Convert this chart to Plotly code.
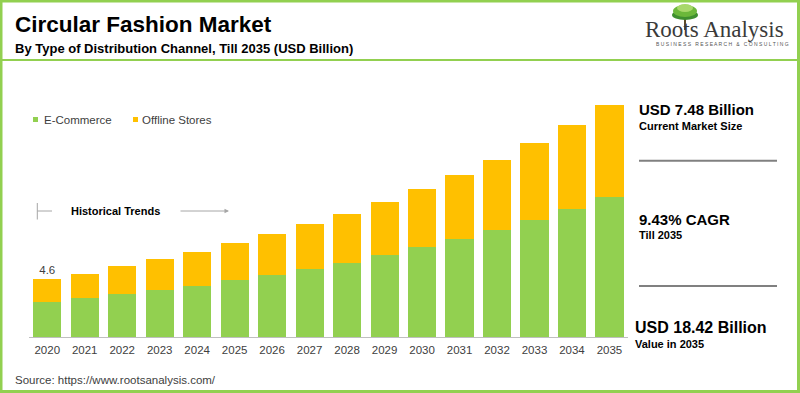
import plotly.graph_objects as go

years = [str(y) for y in range(2020, 2036)]
ecommerce = [2.82, 3.09, 3.43, 3.77, 4.10, 4.55, 4.94, 5.39, 5.92, 6.50, 7.14, 7.80, 8.49, 9.29, 10.18, 11.11]
offline = [1.78, 1.93, 2.20, 2.42, 2.69, 2.93, 3.26, 3.60, 3.87, 4.26, 4.63, 5.06, 5.56, 6.13, 6.67, 7.31]
series_names = ["E-Commerce", "Offline Stores"]
top_labels = ["4.6"] + [""] * 15

W, H = 800, 393
GREEN = "#92D050"
ORANGE = "#FFC000"
FONT = "Liberation Sans, Arial, sans-serif"


def px(x):
    return x / W


def py(y):
    return 1 - y / H


fig = go.Figure()
fig.add_trace(go.Bar(x=years, y=ecommerce, name=series_names[0], marker=dict(color=GREEN, line=dict(width=0)),
                     showlegend=False, hoverinfo="skip"))
fig.add_trace(go.Bar(x=years, y=offline, name=series_names[1], marker=dict(color=ORANGE, line=dict(width=0)),
                     showlegend=False, hoverinfo="skip", text=top_labels, textposition="outside",
                     cliponaxis=False, textfont=dict(size=11.5, color="#404040", family=FONT)))

base_px = 337.2
top_px = 80
scale = 12.59

fig.update_layout(
    width=W, height=H,
    margin=dict(l=0, r=0, t=0, b=0),
    paper_bgcolor="white", plot_bgcolor="white",
    barmode="stack", bargap=0.25,
    font=dict(family=FONT, color="#404040"),
    uniformtext=dict(minsize=11, mode="show"),
    xaxis=dict(domain=[px(28.5), px(628.2)], range=[-0.5, 15.5], type="category",
               showline=True, linecolor="#BFBFBF", linewidth=1, ticks="", ticklabelstandoff=2,
               showgrid=False, zeroline=False, tickfont=dict(size=11.5, color="#404040")),
    yaxis=dict(domain=[py(base_px), py(top_px)], range=[0, (base_px - top_px) / scale],
               visible=False, showgrid=False, zeroline=False),
)

shapes = []
# frame
shapes.append(dict(type="rect", xref="paper", yref="paper", x0=px(1), x1=px(798.5), y0=py(391.5), y1=py(1),
                   line=dict(color=GREEN, width=3), fillcolor="rgba(0,0,0,0)", layer="above"))
shapes.append(dict(type="line", xref="paper", yref="paper", x0=0, x1=1, y0=py(60), y1=py(60),
                   line=dict(color=GREEN, width=2)))
# legend squares
shapes.append(dict(type="rect", xref="paper", yref="paper", x0=px(33), x1=px(38), y0=py(122), y1=py(117),
                   fillcolor=GREEN, line=dict(width=0)))
shapes.append(dict(type="rect", xref="paper", yref="paper", x0=px(133), x1=px(138), y0=py(122), y1=py(117),
                   fillcolor=ORANGE, line=dict(width=0)))
# historical trends bracket
shapes.append(dict(type="line", xref="paper", yref="paper", x0=px(37.3), x1=px(37.3), y0=py(219.5), y1=py(203),
                   line=dict(color="#A6A6A6", width=1)))
shapes.append(dict(type="line", xref="paper", yref="paper", x0=px(37.3), x1=px(52), y0=py(211), y1=py(211),
                   line=dict(color="#A6A6A6", width=1)))
# right panel separators
for yy in (160.7, 286):
    shapes.append(dict(type="line", xref="paper", yref="paper", x0=px(639), x1=px(777), y0=py(yy), y1=py(yy),
                       line=dict(color="#808080", width=2)))
# logo tree
shapes.append(dict(type="line", xref="paper", yref="paper", x0=px(685), x1=px(685), y0=py(30), y1=py(14),
                   line=dict(color="#5a4a2a", width=2)))
for (cx, cy, rx, ry, col) in [(685, 15, 13, 5, "#3f8f2f"), (685, 11, 12, 6, "#6cb83a"), (685, 8, 8, 4, "#a8d86a")]:
    shapes.append(dict(type="circle", xref="paper", yref="paper", x0=px(cx - rx), x1=px(cx + rx),
                       y0=py(cy + ry), y1=py(cy - ry), fillcolor=col, line=dict(width=0)))

annotations = []


def txt(x, y, s, size, color="#000000", bold=False, anchor="left", family=FONT):
    annotations.append(dict(xref="paper", yref="paper", x=px(x), y=py(y), text=("<b>%s</b>" % s) if bold else s,
                            showarrow=False, xanchor=anchor, yanchor="middle",
                            font=dict(size=size, color=color, family=family)))


txt(13, 24.5, "Circular Fashion Market", 22.5, "#000000", True)
txt(13, 48.5, "By Type of Distribution Channel, Till 2035 (USD Billion)", 13, "#000000", True)
txt(41.5, 119.5, series_names[0], 11.5, "#404040")
txt(139.5, 119.5, series_names[1], 11.5, "#404040")
txt(69, 211, "Historical Trends", 11, "#000000", True)
txt(13, 380, "Source: https://www.rootsanalysis.com/", 11.5, "#404040")

txt(637, 110, "USD 7.48 Billion", 15, "#000000", True)
txt(637, 125.5, "Current Market Size", 11, "#000000", True)
txt(637, 219, "9.43% CAGR", 15, "#000000", True)
txt(637, 235, "Till 2035", 11, "#000000", True)
txt(633, 327, "USD 18.42 Billion", 16, "#000000", True)
txt(633, 344, "Value in 2035", 11, "#000000", True)

# logo text
txt(714.5, 29.5, "Roots Analysis", 23, "#3a3a3a", False, "center", "Liberation Serif, Times New Roman, serif")
txt(722, 43.5, "B U S I N E S S &nbsp; R E S E A R C H &nbsp; &amp; &nbsp; C O N S U L T I N G", 5, "#555555",
    False, "center")

# historical arrow
annotations.append(dict(xref="paper", yref="paper", x=px(229), y=py(211), ax=-50, ay=0,
                        axref="pixel", ayref="pixel", text="", showarrow=True, arrowhead=2, arrowsize=0.9,
                        arrowwidth=1, arrowcolor="#A6A6A6"))

fig.update_layout(shapes=shapes, annotations=annotations)
fig.write_html("out.html", config={"displayModeBar": False},
               post_script="document.body.style.margin='0';document.body.style.overflow='hidden';")
